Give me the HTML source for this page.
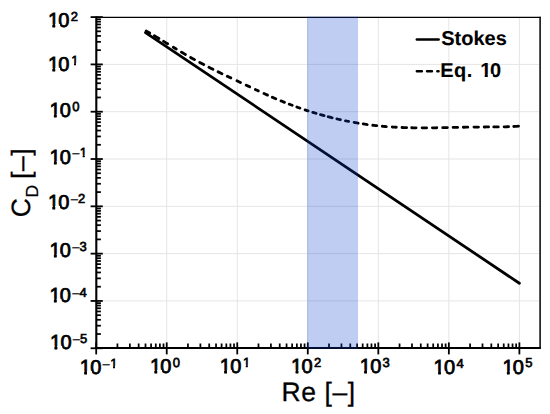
<!DOCTYPE html>
<html><head><meta charset="utf-8"><title>Drag coefficient vs Reynolds number</title><style>
html,body{margin:0;padding:0;background:#fff;}
svg{display:block;font-family:"Liberation Sans", sans-serif;}
.t text{fill:#000;stroke:#000;}
text.t{fill:#000;stroke:#000;}
text{text-rendering:geometricPrecision;}
</style></head><body>
<svg width="550" height="414" viewBox="0 0 550 414">
<defs><clipPath id="c1"><rect x="42.22" y="-3" width="5.19" height="27.09"/><rect x="42.22" y="24.08" width="5.19" height="3.93"/><rect x="42.22" y="28" width="5.19" height="7.01"/><rect x="47.4" y="-3" width="5.02" height="27.09"/><rect x="47.4" y="28" width="5.02" height="7.01"/><rect x="52.41" y="-3" width="2.78" height="27.09"/><rect x="52.41" y="24.08" width="2.78" height="3.93"/><rect x="52.41" y="28" width="2.78" height="7.01"/><rect x="55.18" y="-3" width="4.86" height="27.09"/><rect x="55.18" y="28" width="4.86" height="7.01"/><rect x="60.03" y="-3" width="22.92" height="27.09"/><rect x="60.03" y="24.08" width="22.92" height="3.93"/><rect x="60.03" y="28" width="22.92" height="7.01"/></clipPath><clipPath id="c2"><rect x="42.22" y="41" width="5.19" height="21.69"/><rect x="42.22" y="62.68" width="5.19" height="3.33"/><rect x="42.22" y="66" width="5.19" height="2.09"/><rect x="42.22" y="68.08" width="5.19" height="3.93"/><rect x="42.22" y="72" width="5.19" height="7.01"/><rect x="47.4" y="41" width="5.02" height="21.69"/><rect x="47.4" y="62.68" width="5.02" height="3.33"/><rect x="47.4" y="66" width="5.02" height="2.09"/><rect x="47.4" y="72" width="5.02" height="7.01"/><rect x="52.41" y="41" width="2.78" height="21.69"/><rect x="52.41" y="62.68" width="2.78" height="3.33"/><rect x="52.41" y="66" width="2.78" height="2.09"/><rect x="52.41" y="68.08" width="2.78" height="3.93"/><rect x="52.41" y="72" width="2.78" height="7.01"/><rect x="55.18" y="41" width="4.86" height="21.69"/><rect x="55.18" y="62.68" width="4.86" height="3.33"/><rect x="55.18" y="66" width="4.86" height="2.09"/><rect x="55.18" y="72" width="4.86" height="7.01"/><rect x="60.03" y="41" width="10.11" height="21.69"/><rect x="60.03" y="62.68" width="10.11" height="3.33"/><rect x="60.03" y="66" width="10.11" height="2.09"/><rect x="60.03" y="68.08" width="10.11" height="3.93"/><rect x="60.03" y="72" width="10.11" height="7.01"/><rect x="70.13" y="41" width="3.86" height="21.69"/><rect x="70.13" y="66" width="3.86" height="2.09"/><rect x="70.13" y="68.08" width="3.86" height="3.93"/><rect x="70.13" y="72" width="3.86" height="7.01"/><rect x="73.98" y="41" width="2.01" height="21.69"/><rect x="73.98" y="62.68" width="2.01" height="3.33"/><rect x="73.98" y="66" width="2.01" height="2.09"/><rect x="73.98" y="68.08" width="2.01" height="3.93"/><rect x="73.98" y="72" width="2.01" height="7.01"/><rect x="75.98" y="41" width="3.76" height="21.69"/><rect x="75.98" y="66" width="3.76" height="2.09"/><rect x="75.98" y="68.08" width="3.76" height="3.93"/><rect x="75.98" y="72" width="3.76" height="7.01"/><rect x="79.73" y="41" width="3.21" height="21.69"/><rect x="79.73" y="62.68" width="3.21" height="3.33"/><rect x="79.73" y="66" width="3.21" height="2.09"/><rect x="79.73" y="68.08" width="3.21" height="3.93"/><rect x="79.73" y="72" width="3.21" height="7.01"/></clipPath><clipPath id="c3"><rect x="43.72" y="87" width="5.19" height="27.09"/><rect x="43.72" y="114.08" width="5.19" height="3.93"/><rect x="43.72" y="118" width="5.19" height="7.01"/><rect x="48.9" y="87" width="5.02" height="27.09"/><rect x="48.9" y="118" width="5.02" height="7.01"/><rect x="53.91" y="87" width="2.78" height="27.09"/><rect x="53.91" y="114.08" width="2.78" height="3.93"/><rect x="53.91" y="118" width="2.78" height="7.01"/><rect x="56.68" y="87" width="4.86" height="27.09"/><rect x="56.68" y="118" width="4.86" height="7.01"/><rect x="61.53" y="87" width="22.92" height="27.09"/><rect x="61.53" y="114.08" width="22.92" height="3.93"/><rect x="61.53" y="118" width="22.92" height="7.01"/></clipPath><clipPath id="c4"><rect x="43.72" y="134" width="5.19" height="20.69"/><rect x="43.72" y="154.68" width="5.19" height="3.33"/><rect x="43.72" y="158" width="5.19" height="3.09"/><rect x="43.72" y="161.08" width="5.19" height="3.93"/><rect x="43.72" y="165" width="5.19" height="7.01"/><rect x="48.9" y="134" width="5.02" height="20.69"/><rect x="48.9" y="154.68" width="5.02" height="3.33"/><rect x="48.9" y="158" width="5.02" height="3.09"/><rect x="48.9" y="165" width="5.02" height="7.01"/><rect x="53.91" y="134" width="2.78" height="20.69"/><rect x="53.91" y="154.68" width="2.78" height="3.33"/><rect x="53.91" y="158" width="2.78" height="3.09"/><rect x="53.91" y="161.08" width="2.78" height="3.93"/><rect x="53.91" y="165" width="2.78" height="7.01"/><rect x="56.68" y="134" width="4.86" height="20.69"/><rect x="56.68" y="154.68" width="4.86" height="3.33"/><rect x="56.68" y="158" width="4.86" height="3.09"/><rect x="56.68" y="165" width="4.86" height="7.01"/><rect x="61.53" y="134" width="17.34" height="20.69"/><rect x="61.53" y="154.68" width="17.34" height="3.33"/><rect x="61.53" y="158" width="17.34" height="3.09"/><rect x="61.53" y="161.08" width="17.34" height="3.93"/><rect x="61.53" y="165" width="17.34" height="7.01"/><rect x="78.86" y="134" width="3.86" height="20.69"/><rect x="78.86" y="158" width="3.86" height="3.09"/><rect x="78.86" y="161.08" width="3.86" height="3.93"/><rect x="78.86" y="165" width="3.86" height="7.01"/><rect x="82.71" y="134" width="2.01" height="20.69"/><rect x="82.71" y="154.68" width="2.01" height="3.33"/><rect x="82.71" y="158" width="2.01" height="3.09"/><rect x="82.71" y="161.08" width="2.01" height="3.93"/><rect x="82.71" y="165" width="2.01" height="7.01"/><rect x="84.71" y="134" width="3.76" height="20.69"/><rect x="84.71" y="158" width="3.76" height="3.09"/><rect x="84.71" y="161.08" width="3.76" height="3.93"/><rect x="84.71" y="165" width="3.76" height="7.01"/><rect x="88.46" y="134" width="3.21" height="20.69"/><rect x="88.46" y="154.68" width="3.21" height="3.33"/><rect x="88.46" y="158" width="3.21" height="3.09"/><rect x="88.46" y="161.08" width="3.21" height="3.93"/><rect x="88.46" y="165" width="3.21" height="7.01"/></clipPath><clipPath id="c5"><rect x="42.22" y="179" width="5.19" height="27.09"/><rect x="42.22" y="206.08" width="5.19" height="3.93"/><rect x="42.22" y="210" width="5.19" height="7.01"/><rect x="47.4" y="179" width="5.02" height="27.09"/><rect x="47.4" y="210" width="5.02" height="7.01"/><rect x="52.41" y="179" width="2.78" height="27.09"/><rect x="52.41" y="206.08" width="2.78" height="3.93"/><rect x="52.41" y="210" width="2.78" height="7.01"/><rect x="55.18" y="179" width="4.86" height="27.09"/><rect x="55.18" y="210" width="4.86" height="7.01"/><rect x="60.03" y="179" width="30.15" height="27.09"/><rect x="60.03" y="206.08" width="30.15" height="3.93"/><rect x="60.03" y="210" width="30.15" height="7.01"/></clipPath><clipPath id="c6"><rect x="43.72" y="227" width="5.19" height="27.09"/><rect x="43.72" y="254.08" width="5.19" height="3.93"/><rect x="43.72" y="258" width="5.19" height="7.01"/><rect x="48.9" y="227" width="5.02" height="27.09"/><rect x="48.9" y="258" width="5.02" height="7.01"/><rect x="53.91" y="227" width="2.78" height="27.09"/><rect x="53.91" y="254.08" width="2.78" height="3.93"/><rect x="53.91" y="258" width="2.78" height="7.01"/><rect x="56.68" y="227" width="4.86" height="27.09"/><rect x="56.68" y="258" width="4.86" height="7.01"/><rect x="61.53" y="227" width="30.15" height="27.09"/><rect x="61.53" y="254.08" width="30.15" height="3.93"/><rect x="61.53" y="258" width="30.15" height="7.01"/></clipPath><clipPath id="c7"><rect x="43.72" y="272" width="5.19" height="27.09"/><rect x="43.72" y="299.08" width="5.19" height="3.93"/><rect x="43.72" y="303" width="5.19" height="7.01"/><rect x="48.9" y="272" width="5.02" height="27.09"/><rect x="48.9" y="303" width="5.02" height="7.01"/><rect x="53.91" y="272" width="2.78" height="27.09"/><rect x="53.91" y="299.08" width="2.78" height="3.93"/><rect x="53.91" y="303" width="2.78" height="7.01"/><rect x="56.68" y="272" width="4.86" height="27.09"/><rect x="56.68" y="303" width="4.86" height="7.01"/><rect x="61.53" y="272" width="30.15" height="27.09"/><rect x="61.53" y="299.08" width="30.15" height="3.93"/><rect x="61.53" y="303" width="30.15" height="7.01"/></clipPath><clipPath id="c8"><rect x="44.32" y="319" width="5.19" height="27.09"/><rect x="44.32" y="346.08" width="5.19" height="3.93"/><rect x="44.32" y="350" width="5.19" height="7.01"/><rect x="49.5" y="319" width="5.02" height="27.09"/><rect x="49.5" y="350" width="5.02" height="7.01"/><rect x="54.51" y="319" width="2.78" height="27.09"/><rect x="54.51" y="346.08" width="2.78" height="3.93"/><rect x="54.51" y="350" width="2.78" height="7.01"/><rect x="57.28" y="319" width="4.86" height="27.09"/><rect x="57.28" y="350" width="4.86" height="7.01"/><rect x="62.13" y="319" width="30.15" height="27.09"/><rect x="62.13" y="346.08" width="30.15" height="3.93"/><rect x="62.13" y="350" width="30.15" height="7.01"/></clipPath><clipPath id="c9"><rect x="74.02" y="344" width="5.19" height="21.69"/><rect x="74.02" y="365.68" width="5.19" height="3.33"/><rect x="74.02" y="369" width="5.19" height="2.09"/><rect x="74.02" y="371.08" width="5.19" height="3.93"/><rect x="74.02" y="375" width="5.19" height="7.01"/><rect x="79.2" y="344" width="5.02" height="21.69"/><rect x="79.2" y="365.68" width="5.02" height="3.33"/><rect x="79.2" y="369" width="5.02" height="2.09"/><rect x="79.2" y="375" width="5.02" height="7.01"/><rect x="84.21" y="344" width="2.78" height="21.69"/><rect x="84.21" y="365.68" width="2.78" height="3.33"/><rect x="84.21" y="369" width="2.78" height="2.09"/><rect x="84.21" y="371.08" width="2.78" height="3.93"/><rect x="84.21" y="375" width="2.78" height="7.01"/><rect x="86.98" y="344" width="4.86" height="21.69"/><rect x="86.98" y="365.68" width="4.86" height="3.33"/><rect x="86.98" y="369" width="4.86" height="2.09"/><rect x="86.98" y="375" width="4.86" height="7.01"/><rect x="91.83" y="344" width="17.34" height="21.69"/><rect x="91.83" y="365.68" width="17.34" height="3.33"/><rect x="91.83" y="369" width="17.34" height="2.09"/><rect x="91.83" y="371.08" width="17.34" height="3.93"/><rect x="91.83" y="375" width="17.34" height="7.01"/><rect x="109.16" y="344" width="3.86" height="21.69"/><rect x="109.16" y="369" width="3.86" height="2.09"/><rect x="109.16" y="371.08" width="3.86" height="3.93"/><rect x="109.16" y="375" width="3.86" height="7.01"/><rect x="113.01" y="344" width="2.01" height="21.69"/><rect x="113.01" y="365.68" width="2.01" height="3.33"/><rect x="113.01" y="369" width="2.01" height="2.09"/><rect x="113.01" y="371.08" width="2.01" height="3.93"/><rect x="113.01" y="375" width="2.01" height="7.01"/><rect x="115.01" y="344" width="3.76" height="21.69"/><rect x="115.01" y="369" width="3.76" height="2.09"/><rect x="115.01" y="371.08" width="3.76" height="3.93"/><rect x="115.01" y="375" width="3.76" height="7.01"/><rect x="118.76" y="344" width="3.21" height="21.69"/><rect x="118.76" y="365.68" width="3.21" height="3.33"/><rect x="118.76" y="369" width="3.21" height="2.09"/><rect x="118.76" y="371.08" width="3.21" height="3.93"/><rect x="118.76" y="375" width="3.21" height="7.01"/></clipPath><clipPath id="c10"><rect x="144.22" y="343" width="5.19" height="27.09"/><rect x="144.22" y="370.08" width="5.19" height="3.93"/><rect x="144.22" y="374" width="5.19" height="7.01"/><rect x="149.4" y="343" width="5.02" height="27.09"/><rect x="149.4" y="374" width="5.02" height="7.01"/><rect x="154.41" y="343" width="2.78" height="27.09"/><rect x="154.41" y="370.08" width="2.78" height="3.93"/><rect x="154.41" y="374" width="2.78" height="7.01"/><rect x="157.18" y="343" width="4.86" height="27.09"/><rect x="157.18" y="374" width="4.86" height="7.01"/><rect x="162.03" y="343" width="22.92" height="27.09"/><rect x="162.03" y="370.08" width="22.92" height="3.93"/><rect x="162.03" y="374" width="22.92" height="7.01"/></clipPath><clipPath id="c11"><rect x="214.02" y="343" width="5.19" height="21.69"/><rect x="214.02" y="364.68" width="5.19" height="3.33"/><rect x="214.02" y="368" width="5.19" height="2.09"/><rect x="214.02" y="370.08" width="5.19" height="3.93"/><rect x="214.02" y="374" width="5.19" height="7.01"/><rect x="219.2" y="343" width="5.02" height="21.69"/><rect x="219.2" y="364.68" width="5.02" height="3.33"/><rect x="219.2" y="368" width="5.02" height="2.09"/><rect x="219.2" y="374" width="5.02" height="7.01"/><rect x="224.21" y="343" width="2.78" height="21.69"/><rect x="224.21" y="364.68" width="2.78" height="3.33"/><rect x="224.21" y="368" width="2.78" height="2.09"/><rect x="224.21" y="370.08" width="2.78" height="3.93"/><rect x="224.21" y="374" width="2.78" height="7.01"/><rect x="226.98" y="343" width="4.86" height="21.69"/><rect x="226.98" y="364.68" width="4.86" height="3.33"/><rect x="226.98" y="368" width="4.86" height="2.09"/><rect x="226.98" y="374" width="4.86" height="7.01"/><rect x="231.83" y="343" width="10.11" height="21.69"/><rect x="231.83" y="364.68" width="10.11" height="3.33"/><rect x="231.83" y="368" width="10.11" height="2.09"/><rect x="231.83" y="370.08" width="10.11" height="3.93"/><rect x="231.83" y="374" width="10.11" height="7.01"/><rect x="241.93" y="343" width="3.86" height="21.69"/><rect x="241.93" y="368" width="3.86" height="2.09"/><rect x="241.93" y="370.08" width="3.86" height="3.93"/><rect x="241.93" y="374" width="3.86" height="7.01"/><rect x="245.78" y="343" width="2.01" height="21.69"/><rect x="245.78" y="364.68" width="2.01" height="3.33"/><rect x="245.78" y="368" width="2.01" height="2.09"/><rect x="245.78" y="370.08" width="2.01" height="3.93"/><rect x="245.78" y="374" width="2.01" height="7.01"/><rect x="247.78" y="343" width="3.76" height="21.69"/><rect x="247.78" y="368" width="3.76" height="2.09"/><rect x="247.78" y="370.08" width="3.76" height="3.93"/><rect x="247.78" y="374" width="3.76" height="7.01"/><rect x="251.53" y="343" width="3.21" height="21.69"/><rect x="251.53" y="364.68" width="3.21" height="3.33"/><rect x="251.53" y="368" width="3.21" height="2.09"/><rect x="251.53" y="370.08" width="3.21" height="3.93"/><rect x="251.53" y="374" width="3.21" height="7.01"/></clipPath><clipPath id="c12"><rect x="285.42" y="343" width="5.19" height="27.09"/><rect x="285.42" y="370.08" width="5.19" height="3.93"/><rect x="285.42" y="374" width="5.19" height="7.01"/><rect x="290.6" y="343" width="5.02" height="27.09"/><rect x="290.6" y="374" width="5.02" height="7.01"/><rect x="295.61" y="343" width="2.78" height="27.09"/><rect x="295.61" y="370.08" width="2.78" height="3.93"/><rect x="295.61" y="374" width="2.78" height="7.01"/><rect x="298.38" y="343" width="4.86" height="27.09"/><rect x="298.38" y="374" width="4.86" height="7.01"/><rect x="303.23" y="343" width="22.92" height="27.09"/><rect x="303.23" y="370.08" width="22.92" height="3.93"/><rect x="303.23" y="374" width="22.92" height="7.01"/></clipPath><clipPath id="c13"><rect x="354.02" y="343" width="5.19" height="27.09"/><rect x="354.02" y="370.08" width="5.19" height="3.93"/><rect x="354.02" y="374" width="5.19" height="7.01"/><rect x="359.2" y="343" width="5.02" height="27.09"/><rect x="359.2" y="374" width="5.02" height="7.01"/><rect x="364.21" y="343" width="2.78" height="27.09"/><rect x="364.21" y="370.08" width="2.78" height="3.93"/><rect x="364.21" y="374" width="2.78" height="7.01"/><rect x="366.98" y="343" width="4.86" height="27.09"/><rect x="366.98" y="374" width="4.86" height="7.01"/><rect x="371.83" y="343" width="22.92" height="27.09"/><rect x="371.83" y="370.08" width="22.92" height="3.93"/><rect x="371.83" y="374" width="22.92" height="7.01"/></clipPath><clipPath id="c14"><rect x="427.92" y="344" width="5.19" height="27.09"/><rect x="427.92" y="371.08" width="5.19" height="3.93"/><rect x="427.92" y="375" width="5.19" height="7.01"/><rect x="433.1" y="344" width="5.02" height="27.09"/><rect x="433.1" y="375" width="5.02" height="7.01"/><rect x="438.11" y="344" width="2.78" height="27.09"/><rect x="438.11" y="371.08" width="2.78" height="3.93"/><rect x="438.11" y="375" width="2.78" height="7.01"/><rect x="440.88" y="344" width="4.86" height="27.09"/><rect x="440.88" y="375" width="4.86" height="7.01"/><rect x="445.73" y="344" width="22.92" height="27.09"/><rect x="445.73" y="371.08" width="22.92" height="3.93"/><rect x="445.73" y="375" width="22.92" height="7.01"/></clipPath><clipPath id="c15"><rect x="496.72" y="344" width="5.19" height="27.09"/><rect x="496.72" y="371.08" width="5.19" height="3.93"/><rect x="496.72" y="375" width="5.19" height="7.01"/><rect x="501.9" y="344" width="5.02" height="27.09"/><rect x="501.9" y="375" width="5.02" height="7.01"/><rect x="506.91" y="344" width="2.78" height="27.09"/><rect x="506.91" y="371.08" width="2.78" height="3.93"/><rect x="506.91" y="375" width="2.78" height="7.01"/><rect x="509.68" y="344" width="4.86" height="27.09"/><rect x="509.68" y="375" width="4.86" height="7.01"/><rect x="514.53" y="344" width="22.92" height="27.09"/><rect x="514.53" y="371.08" width="22.92" height="3.93"/><rect x="514.53" y="375" width="22.92" height="7.01"/></clipPath><clipPath id="c16"><rect x="430" y="50" width="49.47" height="23.88"/><rect x="430" y="73.87" width="49.47" height="4.14"/><rect x="430" y="78" width="49.47" height="12.01"/><rect x="479.46" y="50" width="5.27" height="23.88"/><rect x="479.46" y="78" width="5.27" height="12.01"/><rect x="484.72" y="50" width="3.05" height="23.88"/><rect x="484.72" y="73.87" width="3.05" height="4.14"/><rect x="484.72" y="78" width="3.05" height="12.01"/><rect x="487.76" y="50" width="5.01" height="23.88"/><rect x="487.76" y="78" width="5.01" height="12.01"/><rect x="492.77" y="50" width="17.24" height="23.88"/><rect x="492.77" y="73.87" width="17.24" height="4.14"/><rect x="492.77" y="78" width="17.24" height="12.01"/></clipPath></defs>
<rect width="550" height="414" fill="#fff"/>
<line x1="166.73" y1="17.6" x2="166.73" y2="347" stroke="#e5e5e5" stroke-width="1.0"/>
<line x1="237.26" y1="17.6" x2="237.26" y2="347" stroke="#e5e5e5" stroke-width="1.0"/>
<line x1="307.79" y1="17.6" x2="307.79" y2="347" stroke="#e5e5e5" stroke-width="1.0"/>
<line x1="378.32" y1="17.6" x2="378.32" y2="347" stroke="#e5e5e5" stroke-width="1.0"/>
<line x1="448.85" y1="17.6" x2="448.85" y2="347" stroke="#e5e5e5" stroke-width="1.0"/>
<line x1="519.38" y1="17.6" x2="519.38" y2="347" stroke="#e5e5e5" stroke-width="1.0"/>
<line x1="97" y1="64.40" x2="539.5" y2="64.40" stroke="#e5e5e5" stroke-width="1.0"/>
<line x1="97" y1="111.71" x2="539.5" y2="111.71" stroke="#e5e5e5" stroke-width="1.0"/>
<line x1="97" y1="159.02" x2="539.5" y2="159.02" stroke="#e5e5e5" stroke-width="1.0"/>
<line x1="97" y1="206.33" x2="539.5" y2="206.33" stroke="#e5e5e5" stroke-width="1.0"/>
<line x1="97" y1="253.64" x2="539.5" y2="253.64" stroke="#e5e5e5" stroke-width="1.0"/>
<line x1="97" y1="300.95" x2="539.5" y2="300.95" stroke="#e5e5e5" stroke-width="1.0"/>
<path d="M145.50,32.57 L519.38,283.26" stroke="#000" stroke-width="2.8" stroke-linecap="round" fill="none"/>
<path d="M144.99,30.32 L146.87,31.38 L148.74,32.46 L150.62,33.54 L152.50,34.65 L154.37,35.76 L156.25,36.88 L158.13,38.00 L160.00,39.14 L161.88,40.28 L163.76,41.42 L165.63,42.57 L167.51,43.71 L169.39,44.86 L171.26,46.01 L173.14,47.15 L175.02,48.29 L176.89,49.43 L178.77,50.55 L180.65,51.67 L182.52,52.79 L184.40,53.89 L186.28,54.98 L188.16,56.05 L190.03,57.12 L191.91,58.18 L193.79,59.23 L195.66,60.26 L197.54,61.29 L199.42,62.30 L201.29,63.30 L203.17,64.30 L205.05,65.28 L206.92,66.25 L208.80,67.21 L210.68,68.16 L212.55,69.11 L214.43,70.04 L216.31,70.96 L218.18,71.87 L220.06,72.78 L221.94,73.68 L223.81,74.58 L225.69,75.47 L227.57,76.36 L229.44,77.25 L231.32,78.13 L233.20,79.02 L235.07,79.90 L236.95,80.78 L238.83,81.67 L240.70,82.56 L242.58,83.45 L244.46,84.34 L246.33,85.24 L248.21,86.13 L250.09,87.02 L251.96,87.91 L253.84,88.80 L255.72,89.68 L257.59,90.56 L259.47,91.43 L261.35,92.30 L263.22,93.17 L265.10,94.02 L266.98,94.87 L268.85,95.72 L270.73,96.55 L272.61,97.37 L274.49,98.18 L276.36,98.98 L278.24,99.77 L280.12,100.55 L281.99,101.32 L283.87,102.08 L285.75,102.83 L287.62,103.56 L289.50,104.28 L291.38,105.00 L293.25,105.70 L295.13,106.39 L297.01,107.07 L298.88,107.74 L300.76,108.40 L302.64,109.05 L304.51,109.68 L306.39,110.31 L308.27,110.92 L310.14,111.52 L312.02,112.12 L313.90,112.70 L315.77,113.27 L317.65,113.82 L319.53,114.37 L321.40,114.91 L323.28,115.43 L325.16,115.95 L327.03,116.45 L328.91,116.94 L330.79,117.42 L332.66,117.89 L334.54,118.35 L336.42,118.80 L338.29,119.24 L340.17,119.66 L342.05,120.07 L343.92,120.48 L345.80,120.87 L347.68,121.25 L349.55,121.62 L351.43,121.98 L353.31,122.32 L355.19,122.66 L357.06,122.98 L358.94,123.30 L360.82,123.60 L362.69,123.89 L364.57,124.17 L366.45,124.44 L368.32,124.70 L370.20,124.94 L372.08,125.18 L373.95,125.40 L375.83,125.61 L377.71,125.82 L379.58,126.01 L381.46,126.18 L383.34,126.35 L385.21,126.51 L387.09,126.66 L388.97,126.79 L390.84,126.92 L392.72,127.04 L394.60,127.15 L396.47,127.25 L398.35,127.34 L400.23,127.42 L402.10,127.50 L403.98,127.57 L405.86,127.63 L407.73,127.68 L409.61,127.72 L411.49,127.76 L413.36,127.80 L415.24,127.82 L417.12,127.84 L418.99,127.86 L420.87,127.87 L422.75,127.87 L424.62,127.87 L426.50,127.87 L428.38,127.86 L430.25,127.84 L432.13,127.83 L434.01,127.81 L435.88,127.78 L437.76,127.76 L439.64,127.73 L441.52,127.70 L443.39,127.67 L445.27,127.63 L447.15,127.60 L449.02,127.56 L450.90,127.52 L452.78,127.48 L454.65,127.44 L456.53,127.40 L458.41,127.36 L460.28,127.32 L462.16,127.29 L464.04,127.25 L465.91,127.21 L467.79,127.18 L469.67,127.14 L471.54,127.11 L473.42,127.09 L475.30,127.06 L477.17,127.04 L479.05,127.02 L480.93,127.00 L482.80,126.99 L484.68,126.98 L486.56,126.97 L488.43,126.97 L490.31,126.96 L492.19,126.96 L494.06,126.95 L495.94,126.94 L497.82,126.92 L499.69,126.90 L501.57,126.88 L503.45,126.84 L505.32,126.80 L507.20,126.75 L509.08,126.69 L510.95,126.61 L512.83,126.53 L514.71,126.43 L516.58,126.31 L518.46,126.18 L519.40,126.11" stroke="#000" stroke-width="2.8" stroke-dasharray="4.04 5.45 5.25 5.50 4.69 6.68 3.39 6.06 4.64 5.99 4.47 5.92 4.53 5.85 4.48 5.79 4.33 5.87 3.87 6.85 3.87 6.31 3.88 6.30 3.20 6.28 3.84 5.25 3.81 5.64 3.77 5.05 3.21 5.01 3.18 5.50 3.16 4.93 3.45 4.58 3.74 4.24 4.13 4.83 3.59 5.22 3.16 5.60 4.06 5.16 4.04 5.65 4.03 5.53 4.01 6.01 4.01 5.71 4.60 5.10 4.40 6.00 4.50 5.80 4.40 5.90 4.70 5.70 4.50 5.70 4.50 6.20 4.50 5.70 4.40 5.20 4.50 5.80 4.50 5.21 4.71 1000.00" stroke-dashoffset="1391.73" stroke-linecap="round" fill="none"/>
<line x1="96" y1="17.4" x2="540.6" y2="17.4" stroke="#000" stroke-width="1.4"/>
<line x1="540.1" y1="16.8" x2="540.1" y2="348.5" stroke="#000" stroke-width="1.5"/>
<line x1="96.3" y1="16.6" x2="96.3" y2="349" stroke="#000" stroke-width="2.1"/>
<line x1="95.5" y1="347.95" x2="540.8" y2="347.95" stroke="#000" stroke-width="2.0"/>
<line x1="90.6" y1="17.09" x2="102.8" y2="17.09" stroke="#000" stroke-width="1.8"/>
<line x1="96" y1="50.16" x2="100.9" y2="50.16" stroke="#000" stroke-width="1.75"/>
<line x1="96" y1="41.83" x2="100.9" y2="41.83" stroke="#000" stroke-width="1.75"/>
<line x1="96" y1="35.92" x2="100.9" y2="35.92" stroke="#000" stroke-width="1.75"/>
<line x1="96" y1="31.33" x2="100.9" y2="31.33" stroke="#000" stroke-width="1.75"/>
<line x1="96" y1="27.59" x2="100.9" y2="27.59" stroke="#000" stroke-width="1.75"/>
<line x1="96" y1="24.42" x2="100.9" y2="24.42" stroke="#000" stroke-width="1.75"/>
<line x1="96" y1="21.67" x2="100.9" y2="21.67" stroke="#000" stroke-width="1.75"/>
<line x1="96" y1="19.25" x2="100.9" y2="19.25" stroke="#000" stroke-width="1.75"/>
<line x1="90.6" y1="64.40" x2="102.8" y2="64.40" stroke="#000" stroke-width="1.8"/>
<line x1="96" y1="97.47" x2="100.9" y2="97.47" stroke="#000" stroke-width="1.75"/>
<line x1="96" y1="89.14" x2="100.9" y2="89.14" stroke="#000" stroke-width="1.75"/>
<line x1="96" y1="83.23" x2="100.9" y2="83.23" stroke="#000" stroke-width="1.75"/>
<line x1="96" y1="78.64" x2="100.9" y2="78.64" stroke="#000" stroke-width="1.75"/>
<line x1="96" y1="74.90" x2="100.9" y2="74.90" stroke="#000" stroke-width="1.75"/>
<line x1="96" y1="71.73" x2="100.9" y2="71.73" stroke="#000" stroke-width="1.75"/>
<line x1="96" y1="68.98" x2="100.9" y2="68.98" stroke="#000" stroke-width="1.75"/>
<line x1="96" y1="66.56" x2="100.9" y2="66.56" stroke="#000" stroke-width="1.75"/>
<line x1="90.6" y1="111.71" x2="102.8" y2="111.71" stroke="#000" stroke-width="1.8"/>
<line x1="96" y1="144.78" x2="100.9" y2="144.78" stroke="#000" stroke-width="1.75"/>
<line x1="96" y1="136.45" x2="100.9" y2="136.45" stroke="#000" stroke-width="1.75"/>
<line x1="96" y1="130.54" x2="100.9" y2="130.54" stroke="#000" stroke-width="1.75"/>
<line x1="96" y1="125.95" x2="100.9" y2="125.95" stroke="#000" stroke-width="1.75"/>
<line x1="96" y1="122.21" x2="100.9" y2="122.21" stroke="#000" stroke-width="1.75"/>
<line x1="96" y1="119.04" x2="100.9" y2="119.04" stroke="#000" stroke-width="1.75"/>
<line x1="96" y1="116.29" x2="100.9" y2="116.29" stroke="#000" stroke-width="1.75"/>
<line x1="96" y1="113.87" x2="100.9" y2="113.87" stroke="#000" stroke-width="1.75"/>
<line x1="90.6" y1="159.02" x2="102.8" y2="159.02" stroke="#000" stroke-width="1.8"/>
<line x1="96" y1="192.09" x2="100.9" y2="192.09" stroke="#000" stroke-width="1.75"/>
<line x1="96" y1="183.76" x2="100.9" y2="183.76" stroke="#000" stroke-width="1.75"/>
<line x1="96" y1="177.85" x2="100.9" y2="177.85" stroke="#000" stroke-width="1.75"/>
<line x1="96" y1="173.26" x2="100.9" y2="173.26" stroke="#000" stroke-width="1.75"/>
<line x1="96" y1="169.52" x2="100.9" y2="169.52" stroke="#000" stroke-width="1.75"/>
<line x1="96" y1="166.35" x2="100.9" y2="166.35" stroke="#000" stroke-width="1.75"/>
<line x1="96" y1="163.60" x2="100.9" y2="163.60" stroke="#000" stroke-width="1.75"/>
<line x1="96" y1="161.18" x2="100.9" y2="161.18" stroke="#000" stroke-width="1.75"/>
<line x1="90.6" y1="206.33" x2="102.8" y2="206.33" stroke="#000" stroke-width="1.8"/>
<line x1="96" y1="239.40" x2="100.9" y2="239.40" stroke="#000" stroke-width="1.75"/>
<line x1="96" y1="231.07" x2="100.9" y2="231.07" stroke="#000" stroke-width="1.75"/>
<line x1="96" y1="225.16" x2="100.9" y2="225.16" stroke="#000" stroke-width="1.75"/>
<line x1="96" y1="220.57" x2="100.9" y2="220.57" stroke="#000" stroke-width="1.75"/>
<line x1="96" y1="216.83" x2="100.9" y2="216.83" stroke="#000" stroke-width="1.75"/>
<line x1="96" y1="213.66" x2="100.9" y2="213.66" stroke="#000" stroke-width="1.75"/>
<line x1="96" y1="210.91" x2="100.9" y2="210.91" stroke="#000" stroke-width="1.75"/>
<line x1="96" y1="208.49" x2="100.9" y2="208.49" stroke="#000" stroke-width="1.75"/>
<line x1="90.6" y1="253.64" x2="102.8" y2="253.64" stroke="#000" stroke-width="1.8"/>
<line x1="96" y1="286.71" x2="100.9" y2="286.71" stroke="#000" stroke-width="1.75"/>
<line x1="96" y1="278.38" x2="100.9" y2="278.38" stroke="#000" stroke-width="1.75"/>
<line x1="96" y1="272.47" x2="100.9" y2="272.47" stroke="#000" stroke-width="1.75"/>
<line x1="96" y1="267.88" x2="100.9" y2="267.88" stroke="#000" stroke-width="1.75"/>
<line x1="96" y1="264.14" x2="100.9" y2="264.14" stroke="#000" stroke-width="1.75"/>
<line x1="96" y1="260.97" x2="100.9" y2="260.97" stroke="#000" stroke-width="1.75"/>
<line x1="96" y1="258.22" x2="100.9" y2="258.22" stroke="#000" stroke-width="1.75"/>
<line x1="96" y1="255.80" x2="100.9" y2="255.80" stroke="#000" stroke-width="1.75"/>
<line x1="90.6" y1="300.95" x2="102.8" y2="300.95" stroke="#000" stroke-width="1.8"/>
<line x1="96" y1="334.02" x2="100.9" y2="334.02" stroke="#000" stroke-width="1.75"/>
<line x1="96" y1="325.69" x2="100.9" y2="325.69" stroke="#000" stroke-width="1.75"/>
<line x1="96" y1="319.78" x2="100.9" y2="319.78" stroke="#000" stroke-width="1.75"/>
<line x1="96" y1="315.19" x2="100.9" y2="315.19" stroke="#000" stroke-width="1.75"/>
<line x1="96" y1="311.45" x2="100.9" y2="311.45" stroke="#000" stroke-width="1.75"/>
<line x1="96" y1="308.28" x2="100.9" y2="308.28" stroke="#000" stroke-width="1.75"/>
<line x1="96" y1="305.53" x2="100.9" y2="305.53" stroke="#000" stroke-width="1.75"/>
<line x1="96" y1="303.11" x2="100.9" y2="303.11" stroke="#000" stroke-width="1.75"/>
<line x1="90.6" y1="348.26" x2="102.8" y2="348.26" stroke="#000" stroke-width="1.8"/>
<line x1="96.20" y1="342.4" x2="96.20" y2="354.4" stroke="#000" stroke-width="1.8"/>
<line x1="117.43" y1="343.5" x2="117.43" y2="348" stroke="#000" stroke-width="1.75"/>
<line x1="129.85" y1="343.5" x2="129.85" y2="348" stroke="#000" stroke-width="1.75"/>
<line x1="138.66" y1="343.5" x2="138.66" y2="348" stroke="#000" stroke-width="1.75"/>
<line x1="145.50" y1="343.5" x2="145.50" y2="348" stroke="#000" stroke-width="1.75"/>
<line x1="151.08" y1="343.5" x2="151.08" y2="348" stroke="#000" stroke-width="1.75"/>
<line x1="155.80" y1="343.5" x2="155.80" y2="348" stroke="#000" stroke-width="1.75"/>
<line x1="159.89" y1="343.5" x2="159.89" y2="348" stroke="#000" stroke-width="1.75"/>
<line x1="163.50" y1="343.5" x2="163.50" y2="348" stroke="#000" stroke-width="1.75"/>
<line x1="166.73" y1="342.4" x2="166.73" y2="354.4" stroke="#000" stroke-width="1.8"/>
<line x1="187.96" y1="343.5" x2="187.96" y2="348" stroke="#000" stroke-width="1.75"/>
<line x1="200.38" y1="343.5" x2="200.38" y2="348" stroke="#000" stroke-width="1.75"/>
<line x1="209.19" y1="343.5" x2="209.19" y2="348" stroke="#000" stroke-width="1.75"/>
<line x1="216.03" y1="343.5" x2="216.03" y2="348" stroke="#000" stroke-width="1.75"/>
<line x1="221.61" y1="343.5" x2="221.61" y2="348" stroke="#000" stroke-width="1.75"/>
<line x1="226.33" y1="343.5" x2="226.33" y2="348" stroke="#000" stroke-width="1.75"/>
<line x1="230.42" y1="343.5" x2="230.42" y2="348" stroke="#000" stroke-width="1.75"/>
<line x1="234.03" y1="343.5" x2="234.03" y2="348" stroke="#000" stroke-width="1.75"/>
<line x1="237.26" y1="342.4" x2="237.26" y2="354.4" stroke="#000" stroke-width="1.8"/>
<line x1="258.49" y1="343.5" x2="258.49" y2="348" stroke="#000" stroke-width="1.75"/>
<line x1="270.91" y1="343.5" x2="270.91" y2="348" stroke="#000" stroke-width="1.75"/>
<line x1="279.72" y1="343.5" x2="279.72" y2="348" stroke="#000" stroke-width="1.75"/>
<line x1="286.56" y1="343.5" x2="286.56" y2="348" stroke="#000" stroke-width="1.75"/>
<line x1="292.14" y1="343.5" x2="292.14" y2="348" stroke="#000" stroke-width="1.75"/>
<line x1="296.86" y1="343.5" x2="296.86" y2="348" stroke="#000" stroke-width="1.75"/>
<line x1="300.95" y1="343.5" x2="300.95" y2="348" stroke="#000" stroke-width="1.75"/>
<line x1="304.56" y1="343.5" x2="304.56" y2="348" stroke="#000" stroke-width="1.75"/>
<line x1="307.79" y1="342.4" x2="307.79" y2="354.4" stroke="#000" stroke-width="1.8"/>
<line x1="329.02" y1="343.5" x2="329.02" y2="348" stroke="#000" stroke-width="1.75"/>
<line x1="341.44" y1="343.5" x2="341.44" y2="348" stroke="#000" stroke-width="1.75"/>
<line x1="350.25" y1="343.5" x2="350.25" y2="348" stroke="#000" stroke-width="1.75"/>
<line x1="357.09" y1="343.5" x2="357.09" y2="348" stroke="#000" stroke-width="1.75"/>
<line x1="362.67" y1="343.5" x2="362.67" y2="348" stroke="#000" stroke-width="1.75"/>
<line x1="367.39" y1="343.5" x2="367.39" y2="348" stroke="#000" stroke-width="1.75"/>
<line x1="371.48" y1="343.5" x2="371.48" y2="348" stroke="#000" stroke-width="1.75"/>
<line x1="375.09" y1="343.5" x2="375.09" y2="348" stroke="#000" stroke-width="1.75"/>
<line x1="378.32" y1="342.4" x2="378.32" y2="354.4" stroke="#000" stroke-width="1.8"/>
<line x1="399.55" y1="343.5" x2="399.55" y2="348" stroke="#000" stroke-width="1.75"/>
<line x1="411.97" y1="343.5" x2="411.97" y2="348" stroke="#000" stroke-width="1.75"/>
<line x1="420.78" y1="343.5" x2="420.78" y2="348" stroke="#000" stroke-width="1.75"/>
<line x1="427.62" y1="343.5" x2="427.62" y2="348" stroke="#000" stroke-width="1.75"/>
<line x1="433.20" y1="343.5" x2="433.20" y2="348" stroke="#000" stroke-width="1.75"/>
<line x1="437.92" y1="343.5" x2="437.92" y2="348" stroke="#000" stroke-width="1.75"/>
<line x1="442.01" y1="343.5" x2="442.01" y2="348" stroke="#000" stroke-width="1.75"/>
<line x1="445.62" y1="343.5" x2="445.62" y2="348" stroke="#000" stroke-width="1.75"/>
<line x1="448.85" y1="342.4" x2="448.85" y2="354.4" stroke="#000" stroke-width="1.8"/>
<line x1="470.08" y1="343.5" x2="470.08" y2="348" stroke="#000" stroke-width="1.75"/>
<line x1="482.50" y1="343.5" x2="482.50" y2="348" stroke="#000" stroke-width="1.75"/>
<line x1="491.31" y1="343.5" x2="491.31" y2="348" stroke="#000" stroke-width="1.75"/>
<line x1="498.15" y1="343.5" x2="498.15" y2="348" stroke="#000" stroke-width="1.75"/>
<line x1="503.73" y1="343.5" x2="503.73" y2="348" stroke="#000" stroke-width="1.75"/>
<line x1="508.45" y1="343.5" x2="508.45" y2="348" stroke="#000" stroke-width="1.75"/>
<line x1="512.54" y1="343.5" x2="512.54" y2="348" stroke="#000" stroke-width="1.75"/>
<line x1="516.15" y1="343.5" x2="516.15" y2="348" stroke="#000" stroke-width="1.75"/>
<line x1="519.38" y1="342.4" x2="519.38" y2="354.4" stroke="#000" stroke-width="1.8"/>
<rect x="307.0" y="16.7" width="51.0" height="332.2" fill="rgb(0,59,200)" fill-opacity="0.255"/>
<g class="t" clip-path="url(#c1)"><text transform="translate(47.88,27) scale(1,1.020)" font-size="20.0" stroke-width="0.8">1</text><text x="58.34" y="27" font-size="20.0" stroke-width="0.8">0</text><text x="70.71" y="21" font-size="13.0" stroke-width="0.65">2</text></g>
<g class="t" clip-path="url(#c2)"><text transform="translate(47.88,71) scale(1,1.020)" font-size="20.0" stroke-width="0.8">1</text><text x="58.34" y="71" font-size="20.0" stroke-width="0.8">0</text><text transform="translate(71.14,65) scale(1,1.020)" font-size="13.0" stroke-width="0.65">1</text></g>
<g class="t" clip-path="url(#c3)"><text transform="translate(49.38,117) scale(1,1.020)" font-size="20.0" stroke-width="0.8">1</text><text x="59.84" y="117" font-size="20.0" stroke-width="0.8">0</text><text x="72.21" y="111" font-size="13.0" stroke-width="0.65">0</text></g>
<g class="t" clip-path="url(#c4)"><text transform="translate(49.38,164) scale(1,1.020)" font-size="20.0" stroke-width="0.8">1</text><text x="59.84" y="164" font-size="20.0" stroke-width="0.8">0</text><text x="72.21" y="157" font-size="13.0" stroke-width="0.15">–</text><text transform="translate(79.87,157) scale(1,1.020)" font-size="13.0" stroke-width="0.65">1</text></g>
<g class="t" clip-path="url(#c5)"><text transform="translate(47.88,209) scale(1,1.020)" font-size="20.0" stroke-width="0.8">1</text><text x="58.34" y="209" font-size="20.0" stroke-width="0.8">0</text><text x="70.71" y="203" font-size="13.0" stroke-width="0.15">–</text><text x="77.94" y="203" font-size="13.0" stroke-width="0.65">2</text></g>
<g class="t" clip-path="url(#c6)"><text transform="translate(49.38,257) scale(1,1.020)" font-size="20.0" stroke-width="0.8">1</text><text x="59.84" y="257" font-size="20.0" stroke-width="0.8">0</text><text x="72.21" y="251" font-size="13.0" stroke-width="0.15">–</text><text x="79.44" y="251" font-size="13.0" stroke-width="0.65">3</text></g>
<g class="t" clip-path="url(#c7)"><text transform="translate(49.38,302) scale(1,1.020)" font-size="20.0" stroke-width="0.8">1</text><text x="59.84" y="302" font-size="20.0" stroke-width="0.8">0</text><text x="72.21" y="297" font-size="13.0" stroke-width="0.15">–</text><text x="79.44" y="297" font-size="13.0" stroke-width="0.65">4</text></g>
<g class="t" clip-path="url(#c8)"><text transform="translate(49.98,349) scale(1,1.020)" font-size="20.0" stroke-width="0.8">1</text><text x="60.44" y="349" font-size="20.0" stroke-width="0.8">0</text><text x="72.81" y="343" font-size="13.0" stroke-width="0.15">–</text><text x="80.04" y="343" font-size="13.0" stroke-width="0.65">5</text></g>
<g class="t" clip-path="url(#c9)"><text transform="translate(79.68,374) scale(1,1.020)" font-size="20.0" stroke-width="0.8">1</text><text x="90.14" y="374" font-size="20.0" stroke-width="0.8">0</text><text x="102.51" y="368" font-size="13.0" stroke-width="0.15">–</text><text transform="translate(110.17,368) scale(1,1.020)" font-size="13.0" stroke-width="0.65">1</text></g>
<g class="t" clip-path="url(#c10)"><text transform="translate(149.88,373) scale(1,1.020)" font-size="20.0" stroke-width="0.8">1</text><text x="160.34" y="373" font-size="20.0" stroke-width="0.8">0</text><text x="172.71" y="367" font-size="13.0" stroke-width="0.65">0</text></g>
<g class="t" clip-path="url(#c11)"><text transform="translate(219.68,373) scale(1,1.020)" font-size="20.0" stroke-width="0.8">1</text><text x="230.14" y="373" font-size="20.0" stroke-width="0.8">0</text><text transform="translate(242.94,367) scale(1,1.020)" font-size="13.0" stroke-width="0.65">1</text></g>
<g class="t" clip-path="url(#c12)"><text transform="translate(291.08,373) scale(1,1.020)" font-size="20.0" stroke-width="0.8">1</text><text x="301.54" y="373" font-size="20.0" stroke-width="0.8">0</text><text x="313.91" y="367" font-size="13.0" stroke-width="0.65">2</text></g>
<g class="t" clip-path="url(#c13)"><text transform="translate(359.68,373) scale(1,1.020)" font-size="20.0" stroke-width="0.8">1</text><text x="370.14" y="373" font-size="20.0" stroke-width="0.8">0</text><text x="382.51" y="367" font-size="13.0" stroke-width="0.65">3</text></g>
<g class="t" clip-path="url(#c14)"><text transform="translate(433.58,374) scale(1,1.020)" font-size="20.0" stroke-width="0.8">1</text><text x="444.04" y="374" font-size="20.0" stroke-width="0.8">0</text><text x="456.41" y="368" font-size="13.0" stroke-width="0.65">4</text></g>
<g class="t" clip-path="url(#c15)"><text transform="translate(502.38,374) scale(1,1.020)" font-size="20.0" stroke-width="0.8">1</text><text x="512.84" y="374" font-size="20.0" stroke-width="0.8">0</text><text x="525.21" y="367" font-size="13.0" stroke-width="0.65">5</text></g>
<text class="t" x="281.4" y="401" font-size="26.5" stroke-width="0.3" letter-spacing="0.6">Re [–]</text>
<g class="t" transform="translate(30.1,217.3) rotate(-90)"><text x="0" y="0" font-size="26.5" stroke-width="0.3">C</text><text x="19.73" y="7.4" font-size="17.5" stroke-width="0.2">D</text><text x="38.23" y="0" font-size="26.5" stroke-width="0.3" letter-spacing="0.6">[–]</text></g>
<line x1="416.8" y1="39.5" x2="438.7" y2="39.5" stroke="#000" stroke-width="2.4" stroke-linecap="round"/>
<path d="M416.85,71.2 L440,71.2" stroke="#000" stroke-width="2.5" stroke-linecap="round" stroke-dasharray="5 5.2 4.9 5.4 1.2 100"/>
<text class="t" x="441.2" y="45" font-size="20" font-weight="bold" stroke-width="0.1">Stokes</text>
<g class="t" clip-path="url(#c16)"><text x="440.2" y="77" font-size="20" font-weight="bold" stroke-width="0.1" letter-spacing="0.55">Eq.</text><text transform="translate(480.20,77) scale(1,1.020)" font-size="20" font-weight="bold" stroke-width="0.1">1</text><text x="490.02" y="77" font-size="20" font-weight="bold" stroke-width="0.1">0</text></g>
</svg>
</body></html>
